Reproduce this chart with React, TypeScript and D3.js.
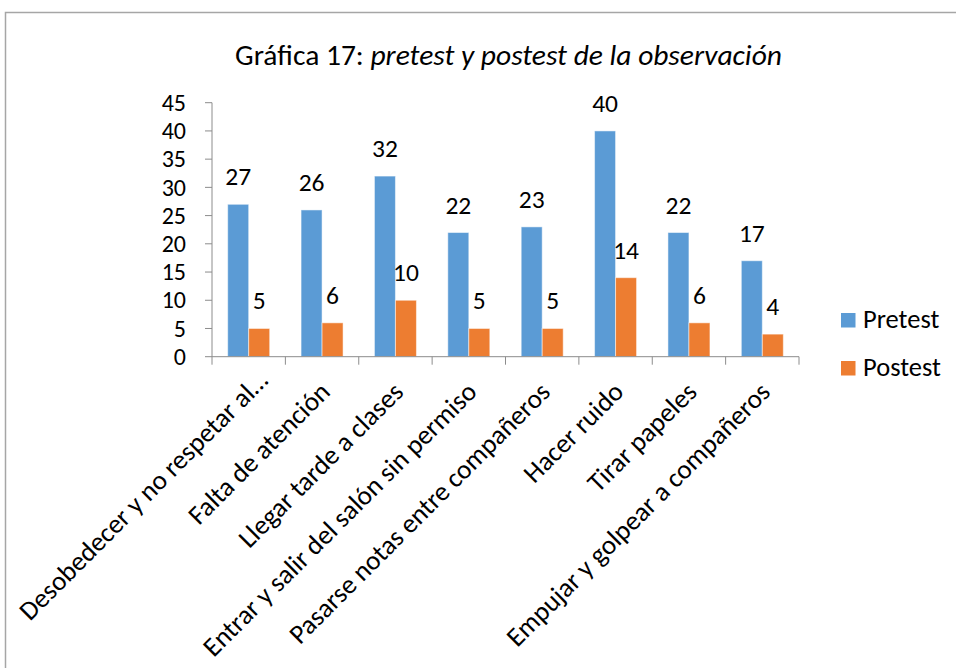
import React from "react";
import * as d3 from "d3";

const categories = [
  "Desobedecer y no respetar al…",
  "Falta de atención",
  "Llegar tarde a clases",
  "Entrar y salir del salón sin permiso",
  "Pasarse notas entre compañeros",
  "Hacer ruido",
  "Tirar papeles",
  "Empujar y golpear a compañeros",
];
const pretest = [27, 26, 32, 22, 23, 40, 22, 17];
const postest = [5, 6, 10, 5, 5, 14, 6, 4];
const seriesNames = ["Pretest", "Postest"];
const seriesColors = ["#5B9BD5", "#ED7D31"];
const yTicks = [0, 5, 10, 15, 20, 25, 30, 35, 40, 45];

const W = 956;
const H = 668;
const FONT = "Carlito, Calibri, 'Open Sans', sans-serif";

export default function App() {
  const left = 212;
  const right = 799;
  const top = 102.7;
  const bottom = 356.7;

  const x = d3.scaleBand<string>().domain(categories).range([left, right]).paddingInner(0.4276).paddingOuter(0.2138);
  const xs = d3.scaleBand<string>().domain(seriesNames).range([0, x.bandwidth()]);
  const y = d3.scaleLinear().domain([0, 45]).range([bottom, top]);
  const step = x.step();
  const series = [pretest, postest];

  const axisColor = "#8c8c8c";

  return (
    <svg width={W} height={H} style={{ position: "absolute", left: 0, top: 0, background: "#fff" }} fontFamily={FONT}>
      <rect x={5.5} y={12.5} width={W + 20} height={H + 20} fill="#fff" stroke="#a6a6a6" strokeWidth={1.5} />
      <text x={508.5} y={65} textAnchor="middle" fontSize={29.5} fill="#000">
        Gráfica 17: <tspan fontStyle="italic">pretest y postest de la observación</tspan>
      </text>

      {/* y axis */}
      <line x1={left} x2={left} y1={top} y2={bottom} stroke={axisColor} strokeWidth={1} />
      {yTicks.map((t) => (
        <g key={t}>
          <line x1={left - 7} x2={left} y1={y(t)} y2={y(t)} stroke={axisColor} />
          <text x={186} y={y(t)} dy="0.34em" textAnchor="end" fontSize={24} fill="#000">
            {t}
          </text>
        </g>
      ))}

      {/* bars */}
      {categories.map((c, i) => (
        <g key={c}>
          {series.map((s, j) => {
            const bx = (x(c) as number) + (xs(seriesNames[j]) as number);
            const bw = xs.bandwidth();
            return (
              <g key={j}>
                <rect
                  x={bx}
                  y={y(s[i])}
                  width={bw}
                  height={bottom - y(s[i])}
                  fill={seriesColors[j]}
                  stroke="#fff"
                  strokeOpacity={0.5}
                  strokeWidth={1}
                />
                <text x={bx + bw / 2} y={y(s[i]) - 19} textAnchor="middle" fontSize={25.5} fill="#000">
                  {s[i]}
                </text>
              </g>
            );
          })}
        </g>
      ))}

      {/* x axis */}
      <line x1={left} x2={right} y1={bottom} y2={bottom} stroke={axisColor} strokeWidth={1} />
      {d3.range(categories.length + 1).map((k) => (
        <line key={k} x1={left + k * step} x2={left + k * step} y1={bottom} y2={bottom + 8} stroke={axisColor} />
      ))}
      {categories.map((c, i) => {
        const cx = (x(c) as number) + x.bandwidth() / 2;
        const extra = c.endsWith("…") ? 16 : 0;
        return (
          <text
            key={c}
            transform={`translate(${cx + 9.5 + extra * 0.707},${393.5 - extra * 0.707}) rotate(-45)`}
            textAnchor="end"
            fontSize={27}
            fill="#000"
          >
            {c}
          </text>
        );
      })}

      {/* legend */}
      {seriesNames.map((n, j) => (
        <g key={n} transform={`translate(841,${313 + j * 48})`}>
          <rect x={0} y={0} width={14.5} height={14.5} fill={seriesColors[j]} />
          <text x={22} y={14.7} fontSize={26.5} fill="#000">
            {n}
          </text>
        </g>
      ))}
    </svg>
  );
}
